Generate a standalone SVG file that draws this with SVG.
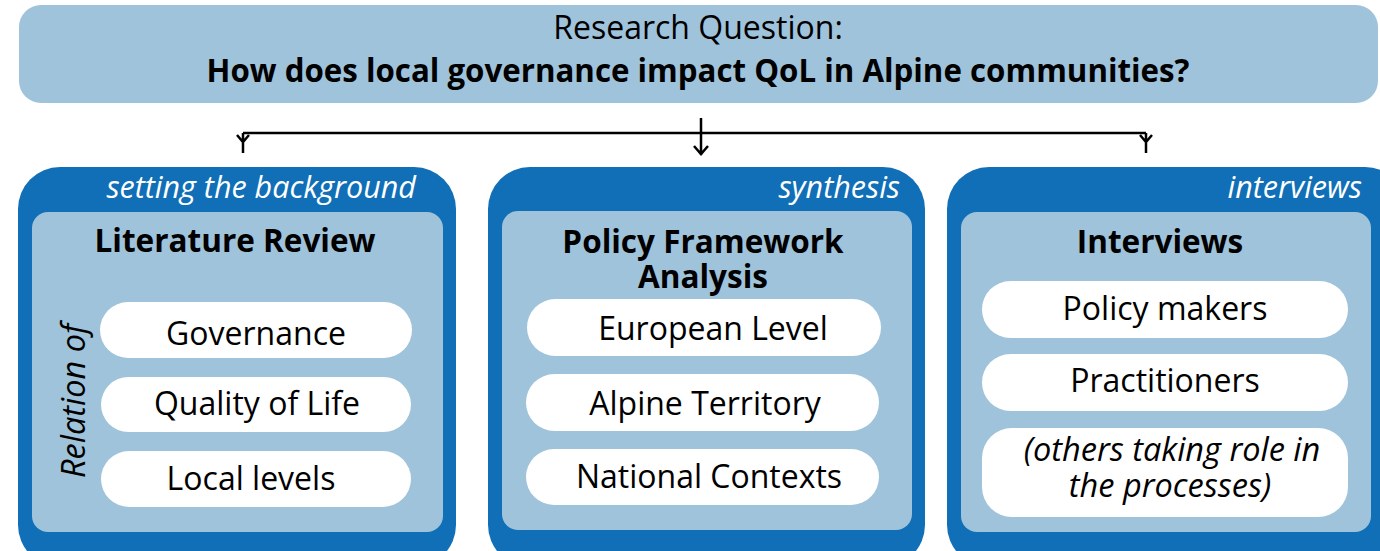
<svg xmlns="http://www.w3.org/2000/svg" width="1380" height="551" viewBox="0 0 1380 551">
<style>
.light{fill:#9fc3da}
.dark{fill:#106fb6}
.pill{fill:#ffffff}
text{font-family:"Open Sans","Liberation Sans",sans-serif;fill:#000}
.h{font-weight:bold;font-size:31.5px;text-anchor:middle}
.t{font-size:32px;text-anchor:middle}
.i{font-style:italic;font-size:32.5px;text-anchor:middle}
.tag{font-style:italic;font-size:30.5px;fill:#ffffff;text-anchor:end}
.conn{stroke:#000;stroke-width:2.5;fill:none}
</style>
<rect width="1380" height="551" fill="#ffffff"/>
<g id="question">
<rect class="light" x="19" y="5" width="1359" height="98" rx="22"/>
<text class="t" x="698" y="39">Research Question:</text>
<text class="h" x="698" y="82" font-size="30" textLength="983" lengthAdjust="spacingAndGlyphs">How does local governance impact QoL in Alpine communities?</text>
</g>
<g id="connectors">
<path class="conn" d="M243,133 H1146"/>
<path class="conn" d="M243,133 V153 M237,135 L243,142 L249,135"/>
<path class="conn" d="M1146,133 V153 M1140,135 L1146,142 L1152,135"/>
<path class="conn" d="M701,118 V155 M694,146 L701,154 L708,146"/>
</g>
<g id="literature">
<rect class="dark" x="18" y="167" width="438" height="400" rx="42"/>
<text class="tag" x="416" y="198">setting the background</text>
<rect class="light" x="32" y="212" width="411" height="320" rx="16"/>
<text class="h" x="235" y="252">Literature Review</text>
<text class="i" x="85" y="401" transform="rotate(-90 85 401)">Relation of</text>
<rect class="pill" x="100" y="302" width="312" height="56" rx="28"/>
<text class="t" x="256" y="345">Governance</text>
<rect class="pill" x="101" y="377" width="310" height="55" rx="27.5"/>
<text class="t" x="257" y="415">Quality of Life</text>
<rect class="pill" x="101" y="451" width="310" height="56" rx="28"/>
<text class="t" x="251" y="490">Local levels</text>
</g>
<g id="policy">
<rect class="dark" x="488" y="167" width="437" height="400" rx="42"/>
<text class="tag" x="900" y="198">synthesis</text>
<rect class="light" x="502" y="211" width="410" height="319" rx="16"/>
<text class="h"><tspan x="703" y="253">Policy Framework</tspan><tspan x="703" y="288">Analysis</tspan></text>
<rect class="pill" x="527" y="299" width="354" height="57" rx="28.5"/>
<text class="t" x="713" y="340">European Level</text>
<rect class="pill" x="526" y="374" width="353" height="57" rx="28.5"/>
<text class="t" x="705" y="415">Alpine Territory</text>
<rect class="pill" x="526" y="449" width="353" height="56" rx="28"/>
<text class="t" x="709" y="488">National Contexts</text>
</g>
<g id="interviews">
<rect class="dark" x="947" y="167" width="460" height="400" rx="42"/>
<text class="tag" x="1362" y="198">interviews</text>
<rect class="light" x="961" y="212" width="410" height="320" rx="16"/>
<text class="h" x="1160" y="253">Interviews</text>
<rect class="pill" x="982" y="281" width="366" height="57" rx="28.5"/>
<text class="t" x="1165" y="320">Policy makers</text>
<rect class="pill" x="982" y="354" width="366" height="57" rx="28.5"/>
<text class="t" x="1165" y="392">Practitioners</text>
<rect class="pill" x="982" y="428" width="366" height="89" rx="30"/>
<text class="i"><tspan x="1172" y="461">(others taking role in</tspan><tspan x="1170" y="497">the processes)</tspan></text>
</g>
</svg>
